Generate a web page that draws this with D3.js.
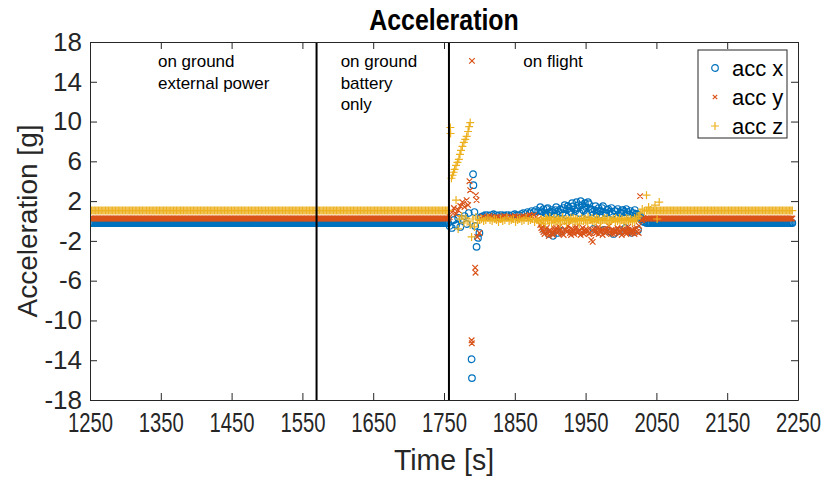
<!DOCTYPE html>
<html>
<head>
<meta charset="utf-8">
<script src="https://cdn.jsdelivr.net/npm/d3@7"></script>
<style>
  body { margin: 0; background: #fff; }
  svg { display: block; font-family: "Liberation Sans", Arial, sans-serif; }
  .axis path, .axis line { stroke: #262626; }
  .axis text { fill: #262626; }
</style>
</head>
<body>
<div id="chart"></div>
<script>
// ---- data ----
const xTicks = [1250, 1350, 1450, 1550, 1650, 1750, 1850, 1950, 2050, 2150, 2250];
const yTicks = [-18, -14, -10, -6, -2, 2, 6, 10, 14, 18];
const seriesNames = ['acc x', 'acc y', 'acc z'];
const phaseLines = [1570, 1757];
const phaseTexts = [['on ground', 'external power'], ['on ground', 'battery', 'only'], ['on flight']];

// steady parts (on ground before take-off, after landing): one level per series
const steadySpans = [[1250, 1757], [2036, 2243]];
const steadyLevels = [-0.2, 0.25, 1.05];
const sampleStep = 2;

// flight part, [time, g]
const flightX = [
  [1758, -0.5], [1761, -0.7], [1764, 0.1], [1767, -0.4], [1770, 0.3], [1773, -0.6], [1776, 0.2],
  [1779, 0.5], [1782, -0.3], [1785, 0.8],
  [1789, -13.9], [1789.5, -15.8], [1791, 4.7], [1791.5, 3.6], [1793, 0.9], [1794, -0.5],
  [1796, -2.6], [1798, -1.7], [1800, -1.2], [1802, 0.4],
  [1805, 0.5], [1808, 0.6], [1811, 0.6], [1814, 0.5], [1817, 0.6], [1820, 0.7], [1823, 0.6],
  [1826, 0.5], [1829, 0.6], [1832, 0.6], [1835, 0.5], [1838, 0.6], [1841, 0.6], [1844, 0.5],
  [1847, 0.6], [1850, 0.7], [1853, 0.6], [1856, 0.6], [1859, 0.7], [1862, 0.8], [1865, 0.7],
  [1868, 0.9], [1871, 0.8], [1874, 1.0], [1877, 0.9], [1880, 1.1], [1883, 1.0],
  [1886, 1.4], [1889, 0.9], [1892, -0.9], [1895, 1.2], [1898, -1.3], [1901, 0.7], [1904, -1.5],
  [1907, 1.1], [1910, -1.2], [1913, 0.8], [1916, -1.0], [1919, 1.3], [1922, 0.6], [1925, 1.5],
  [1928, 1.0], [1931, 1.8], [1934, 1.2], [1937, 1.9], [1940, 1.6], [1943, 2.0], [1946, 1.1],
  [1949, 1.8], [1952, 0.7], [1955, 1.7], [1958, 1.2], [1961, -0.8], [1964, 1.5], [1967, 1.0],
  [1970, 0.6], [1973, 1.3], [1976, -0.9], [1979, 0.8], [1982, 1.2], [1985, -1.1], [1988, 0.7],
  [1991, 1.0], [1994, 0.5], [1997, -1.0], [2000, 0.8], [2003, 1.1], [2006, -0.7], [2009, 0.9],
  [2012, 0.6], [2015, -1.2], [2018, 0.8], [2021, 0.3], [2024, -0.9], [2027, 0.5], [2030, 0.0],
  [2033, -0.1],
  [1887.5, 1.0], [1890.5, 1.2], [1893.5, 0.8], [1896.5, 1.3], [1899.5, 0.9], [1902.5, 1.1],
  [1905.5, 0.7], [1908.5, 1.4], [1911.5, 1.0], [1914.5, 1.2], [1917.5, 0.8], [1920.5, 1.6],
  [1923.5, 1.1], [1926.5, 1.3], [1929.5, 0.9], [1932.5, 1.5], [1935.5, 1.0], [1938.5, 1.3],
  [1941.5, 0.8], [1944.5, 1.6], [1947.5, 1.0], [1950.5, 1.4], [1953.5, 1.9], [1956.5, 1.2],
  [1959.5, 0.9], [1962.5, 1.1], [1965.5, 0.7], [1968.5, 1.3], [1971.5, 1.0], [1974.5, 1.5],
  [1977.5, 0.8], [1980.5, 1.1], [1983.5, 0.9], [1986.5, 1.3], [1989.5, -1.3], [1992.5, 1.0],
  [1995.5, 1.2], [1998.5, 0.8], [2001.5, 1.1], [2004.5, 0.9], [2007.5, 1.2], [2010.5, -1.0],
  [2013.5, 1.0], [2016.5, 0.8], [2019.5, 1.1], [2022.5, 0.7], [2025.5, 0.4], [2028.5, 0.2],
  [2031.5, -0.1]
];
const flightY = [
  [1758, 0.4], [1761, 0.9], [1764, 1.3], [1767, 0.7], [1770, 1.1], [1773, 1.5], [1776, 1.9],
  [1779, 1.4], [1782, 2.1], [1784, 1.6], [1786, 4.0], [1787, 3.1],
  [1789.5, 16.1], [1789, -12.0], [1789.3, -12.3], [1794, -4.7], [1794.5, -5.2], [1795, 2.6],
  [1796, 2.1], [1797, -1.6], [1800, -1.2], [1802, 0.3],
  [1805, 0.4], [1808, 0.3], [1811, 0.4], [1814, 0.5], [1817, 0.4], [1820, 0.3], [1823, 0.4],
  [1826, 0.4], [1829, 0.3], [1832, 0.4], [1835, 0.5], [1838, 0.4], [1841, 0.3], [1844, 0.4],
  [1847, 0.4], [1850, 0.5], [1853, 0.4], [1856, 0.3], [1859, 0.4], [1862, 0.5], [1865, 0.4],
  [1868, 0.5], [1871, 0.6], [1874, 0.5], [1877, 0.6], [1880, 0.4], [1883, 0.2],
  [1886, -0.4], [1889, -0.9], [1892, -1.3], [1895, -0.7], [1898, -1.5], [1901, -1.0], [1904, -1.4],
  [1907, -0.8], [1910, -1.2], [1913, -0.6], [1916, -1.1], [1919, -1.4], [1922, -0.9], [1925, -0.5],
  [1928, -1.2], [1931, -0.8], [1934, -1.3], [1937, -0.6], [1940, -1.0], [1943, -1.4], [1946, -0.7],
  [1949, -1.1], [1952, -0.9], [1955, -1.3], [1958, -1.9], [1960, -2.1], [1962, -0.8], [1965, -1.2],
  [1968, -0.6], [1971, -1.0], [1974, -1.4], [1977, -0.8], [1980, -1.1], [1983, -0.5], [1986, -1.3],
  [1989, -0.9], [1992, -1.2], [1995, -0.7], [1998, -1.0], [2001, -1.4], [2004, -0.8], [2007, -1.1],
  [2010, -0.6], [2013, -1.2], [2016, -0.9], [2019, -1.3], [2022, -0.7], [2025, -1.2], [2027, 2.5],
  [2030, 0.1], [2033, 0.2],
  [1887.5, -0.7], [1890.5, -1.1], [1893.5, -0.8], [1896.5, -1.2], [1899.5, -0.9], [1902.5, -1.3],
  [1905.5, -1.0], [1908.5, -0.7], [1911.5, -1.1], [1914.5, -0.9], [1917.5, -1.3], [1920.5, -0.8],
  [1923.5, -1.1], [1926.5, -0.9], [1929.5, -1.4], [1932.5, -1.0], [1935.5, -0.8], [1938.5, -1.2],
  [1941.5, -0.9], [1944.5, -1.1], [1947.5, -1.3], [1950.5, -0.8], [1953.5, -1.0], [1956.5, -1.2],
  [1959.5, -0.9], [1962.5, -1.1], [1965.5, -0.8], [1968.5, -1.3], [1971.5, -1.0], [1974.5, -0.9],
  [1977.5, -1.2], [1980.5, -0.8], [1983.5, -1.1], [1986.5, -0.9], [1989.5, -1.3], [1992.5, -1.0],
  [1995.5, -0.8], [1998.5, -1.2], [2001.5, -0.9], [2004.5, -1.1], [2007.5, -1.3], [2010.5, -0.9],
  [2013.5, -1.0], [2016.5, -1.2], [2019.5, -0.8], [2022.5, -1.1], [2025.5, -0.5], [2028.5, 0.1],
  [2031.5, 0.3]
];
const flightZ = [
  [1759, 9.4], [1759.3, 8.8], [1760.5, 4.3], [1762, 4.6], [1763.5, 4.9], [1765, 5.2], [1767, 5.6],
  [1769, 5.9], [1771, 6.2], [1772.5, 6.7], [1774, 7.1], [1776, 7.5], [1778, 7.9], [1780, 8.2],
  [1782, 8.5], [1784, 9.0], [1785.5, 9.5], [1787, 9.9],
  [1767, 2.1], [1770, -0.8], [1772, 0.2], [1775, 0.5], [1778, -0.2], [1781, 0.3], [1784, 0.0],
  [1787, -0.4], [1789, -1.6], [1791, 0.2], [1793, -0.6], [1795, 0.4], [1797, -0.2], [1800, 0.1],
  [1803, 0.2], [1806, 0.0], [1809, 0.1], [1812, 0.3], [1815, 0.1], [1818, 0.0], [1821, 0.2],
  [1824, 0.1], [1827, -0.1], [1830, 0.2], [1833, 0.0], [1836, 0.1], [1839, 0.3], [1842, 0.0],
  [1845, 0.1], [1848, 0.2], [1851, -0.1], [1854, 0.1], [1857, 0.2], [1860, 0.0], [1863, 0.1],
  [1866, 0.3], [1869, 0.0], [1872, 0.1], [1875, 0.2], [1878, -0.1], [1881, 0.1], [1884, 0.0],
  [1887, -0.2], [1890, 0.1], [1893, -0.3], [1896, 0.2], [1899, 0.0], [1902, -0.2], [1905, 0.3],
  [1908, -0.1], [1911, 0.1], [1914, -0.3], [1917, 0.2], [1920, 0.0], [1923, -0.2], [1926, 0.1],
  [1929, 0.3], [1932, -0.1], [1935, 0.0], [1938, 0.2], [1941, -0.3], [1944, 0.1], [1947, 0.0],
  [1950, 0.2], [1953, -0.2], [1956, 0.1], [1959, 0.3], [1962, -0.1], [1965, 0.0], [1968, 0.2],
  [1971, -0.2], [1974, 0.1], [1977, 0.3], [1980, 0.0], [1983, -0.2], [1986, 0.1], [1989, 0.2],
  [1992, -0.1], [1995, 0.0], [1998, 0.3], [2001, 0.1], [2004, -0.2], [2007, 0.0], [2010, 0.2],
  [2013, 0.1], [2016, -0.1], [2019, 0.3], [2022, 0.2], [2025, 0.5], [2027, 0.8], [2030, 1.2],
  [2033, 1.0], [2036, 2.6], [2039, 1.4], [2042, 1.1], [2048, 1.6], [2051, 0.2], [2054, 1.9],
  [1887.5, 0.2], [1890.5, 0.0], [1893.5, 0.3], [1896.5, 0.1], [1899.5, 0.4], [1902.5, 0.1],
  [1905.5, 0.0], [1908.5, 0.3], [1911.5, 0.2], [1914.5, 0.0], [1917.5, 0.4], [1920.5, 0.1],
  [1923.5, 0.2], [1926.5, 0.0], [1929.5, 0.1], [1932.5, 0.3], [1935.5, 0.2], [1938.5, 0.0],
  [1941.5, 0.1], [1944.5, 0.3], [1947.5, 0.2], [1950.5, 0.0], [1953.5, 0.4], [1956.5, 0.1],
  [1959.5, 0.0], [1962.5, 0.2], [1965.5, 0.3], [1968.5, 0.1], [1971.5, 0.0], [1974.5, 0.2],
  [1977.5, 0.1], [1980.5, 0.3], [1983.5, 0.1], [1986.5, 0.0], [1989.5, 0.2], [1992.5, 0.3],
  [1995.5, 0.1], [1998.5, 0.0], [2001.5, 0.2], [2004.5, 0.1], [2007.5, 0.3], [2010.5, 0.0],
  [2013.5, 0.2], [2016.5, 0.1], [2019.5, 0.0], [2022.5, 0.3]
];
const flightSeries = [flightX, flightY, flightZ];

// ---- layout ----
const width = 829;
const height = 478;
const margin = { top: 42, right: 31, bottom: 78, left: 90 };
const colors = ['#0072BD', '#D95319', '#EDB120'];
const axisColor = '#262626';

const x = d3.scaleLinear().domain([1250, 2250]).range([margin.left, width - margin.right]);
const y = d3.scaleLinear().domain([-18, 18]).range([height - margin.bottom, margin.top]);

// marker shapes as path strings
const markers = [
  (px, py, r = 3.3) => `M${px + r},${py}A${r},${r} 0 1,0 ${px - r},${py}A${r},${r} 0 1,0 ${px + r},${py}`,
  (px, py, r = 2.8) => `M${px - r},${py - r}L${px + r},${py + r}M${px - r},${py + r}L${px + r},${py - r}`,
  (px, py, r = 4) => `M${px - r},${py}H${px + r}M${px},${py - r}V${py + r}`
];

const svg = d3.select('#chart').append('svg')
  .attr('width', width)
  .attr('height', height);

svg.append('defs').append('clipPath')
  .attr('id', 'plot-clip')
  .append('rect')
  .attr('x', margin.left)
  .attr('y', margin.top)
  .attr('width', width - margin.left - margin.right)
  .attr('height', height - margin.top - margin.bottom);

// Points
const plot = svg.append('g').attr('clip-path', 'url(#plot-clip)');

flightSeries.forEach((flight, i) => {
  const pts = [];
  steadySpans.forEach(([t0, t1]) => {
    d3.range(t0, t1 + 0.001, sampleStep).forEach(t => pts.push([t, steadyLevels[i]]));
  });
  flight.forEach(p => pts.push(p));

  plot.append('path')
    .attr('d', pts.map(([t, g]) => markers[i](x(t), y(g))).join(''))
    .attr('fill', 'none')
    .attr('stroke', colors[i])
    .attr('stroke-width', 1.2);
});

// Phase separators
svg.selectAll('.phase-line')
  .data(phaseLines)
  .enter()
  .append('line')
  .attr('class', 'phase-line')
  .attr('x1', d => x(d))
  .attr('x2', d => x(d))
  .attr('y1', margin.top)
  .attr('y2', height - margin.bottom)
  .attr('stroke', '#000')
  .attr('stroke-width', 2);

// Phase texts
const textAnchors = [1346, 1604, 1862];
phaseTexts.forEach((lines, i) => {
  const t = svg.append('text')
    .attr('x', x(textAnchors[i]))
    .attr('y', 67)
    .attr('font-size', 17)
    .attr('fill', '#000');
  lines.forEach((line, j) => {
    t.append('tspan')
      .attr('x', x(textAnchors[i]))
      .attr('dy', j === 0 ? 0 : 21.5)
      .text(line);
  });
});

// Axes, ticks pointing inwards on all four sides
const plainNum = d => String(d);

const axisBottom = svg.append('g')
  .attr('class', 'axis')
  .attr('transform', `translate(0,${height - margin.bottom})`)
  .call(d3.axisBottom(x).tickValues(xTicks).tickFormat(plainNum).tickSize(-7).tickSizeOuter(0).tickPadding(13));
axisBottom.selectAll('text')
  .attr('font-size', 27)
  .attr('transform', 'scale(0.75,1)');

svg.append('g')
  .attr('class', 'axis')
  .attr('transform', `translate(0,${margin.top})`)
  .call(d3.axisTop(x).tickValues(xTicks).tickFormat('').tickSize(-7).tickSizeOuter(0));

svg.append('g')
  .attr('class', 'axis')
  .attr('transform', `translate(${margin.left},0)`)
  .call(d3.axisLeft(y).tickValues(yTicks).tickFormat(plainNum).tickSize(-7).tickSizeOuter(0).tickPadding(8))
  .selectAll('text')
  .attr('font-size', 26);

svg.append('g')
  .attr('class', 'axis')
  .attr('transform', `translate(${width - margin.right},0)`)
  .call(d3.axisRight(y).tickValues(yTicks).tickFormat('').tickSize(-7).tickSizeOuter(0));

svg.selectAll('.axis').attr('font-family', null);

// Titles
svg.append('text')
  .attr('transform', `translate(${(margin.left + width - margin.right) / 2},30) scale(0.86,1)`)
  .attr('text-anchor', 'middle')
  .attr('font-size', 29)
  .attr('font-weight', 'bold')
  .attr('fill', '#000')
  .text('Acceleration');

svg.append('text')
  .attr('transform', `translate(${(margin.left + width - margin.right) / 2},470) scale(0.95,1)`)
  .attr('text-anchor', 'middle')
  .attr('font-size', 30)
  .attr('fill', axisColor)
  .text('Time [s]');

svg.append('text')
  .attr('transform', `translate(37,${y(0)}) rotate(-90)`)
  .attr('text-anchor', 'middle')
  .attr('font-size', 28)
  .attr('fill', axisColor)
  .text('Acceleration [g]');

// Legend
const legend = svg.append('g').attr('transform', 'translate(698,50)');
legend.append('rect')
  .attr('width', 89)
  .attr('height', 88)
  .attr('fill', '#fff')
  .attr('stroke', axisColor)
  .attr('stroke-width', 1);

seriesNames.forEach((name, i) => {
  const ly = 18 + i * 29;
  legend.append('path')
    .attr('d', markers[i](17, ly, i === 1 ? 2.2 : undefined))
    .attr('fill', 'none')
    .attr('stroke', colors[i])
    .attr('stroke-width', 1.2);
  legend.append('text')
    .attr('x', 34)
    .attr('y', ly + 8)
    .attr('font-size', 22)
    .attr('fill', '#000')
    .text(name);
});
</script>
</body>
</html>
